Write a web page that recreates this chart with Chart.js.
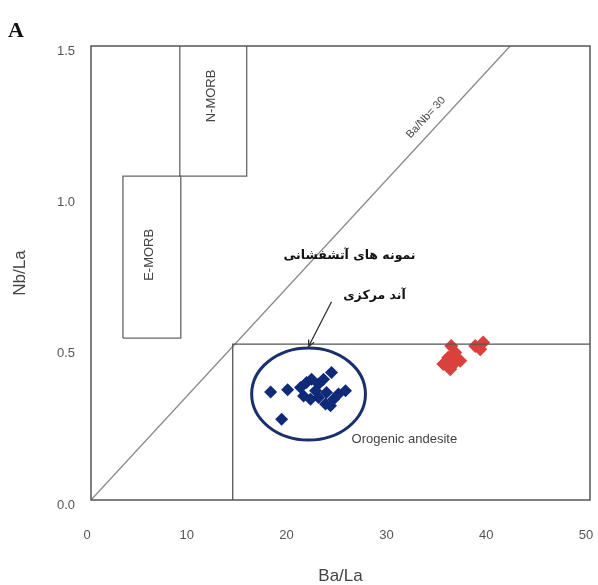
<!DOCTYPE html>
<html>
<head>
<meta charset="utf-8">
<script src="https://cdn.jsdelivr.net/npm/chart.js@4.4.0/dist/chart.umd.min.js"></script>
<style>
  html, body { margin: 0; padding: 0; background: #fff; }
  #wrap { width: 598px; height: 585px; position: relative; }
</style>
</head>
<body>
<div id="wrap"><canvas id="myChart" width="598" height="585"></canvas></div>
<script>
// samples (Ba/La, Nb/La)
const blueX = [18.0, 19.7, 19.1, 21.0, 21.6, 22.1, 21.3, 22.8, 23.3, 24.1, 23.6, 22.8, 23.5, 24.3, 24.8, 25.5, 24.0, 22.5, 22.0]
const blueY = [0.357, 0.364, 0.267, 0.372, 0.388, 0.399, 0.344, 0.383, 0.399, 0.421, 0.355, 0.339, 0.317, 0.333, 0.350, 0.361, 0.311, 0.361, 0.333]
const redX = [36.1, 36.5, 35.8, 35.3, 36.5, 36.0, 37.0, 38.5, 39.3, 39.0]
const redY = [0.509, 0.487, 0.471, 0.449, 0.454, 0.432, 0.460, 0.509, 0.520, 0.498]

// field boundaries
const nMorbX = [8.9, 8.9, 15.6, 15.6]
const nMorbY = [1.5, 1.07, 1.07, 1.5]
const eMorbX = [3.2, 3.2, 9.0, 9.0, 3.2]
const eMorbY = [0.535, 1.07, 1.07, 0.535, 0.535]
const andesiteX = [14.2, 14.2, 50]
const andesiteY = [0, 0.515, 0.515]
const ratioX = [0, 42]
const ratioY = [0, 1.5]

const xTicks = [0, 10, 20, 30, 40, 50]
const yTicks = [0, 0.5, 1.0, 1.5]

const toPts = (xs, ys) => xs.map((x, i) => ({ x: x, y: ys[i] }))

const lineSet = (xs, ys, color) => ({
  data: toPts(xs, ys),
  showLine: true,
  borderColor: color,
  borderWidth: 1.3,
  pointRadius: 0,
  fill: false,
  tension: 0,
})

const overlay = {
  id: 'overlay',
  afterDatasetsDraw(chart) {
    const ctx = chart.ctx
    const xs = chart.scales.x
    const ys = chart.scales.y
    const px = (v) => xs.getPixelForValue(v)
    const py = (v) => ys.getPixelForValue(v)
    const area = chart.chartArea

    ctx.save()
    // frame
    ctx.strokeStyle = '#555'
    ctx.lineWidth = 1.5
    ctx.strokeRect(area.left, area.top, area.right - area.left, area.bottom - area.top)

    // ellipse round the blue group
    ctx.strokeStyle = '#1a2f6e'
    ctx.lineWidth = 3
    ctx.beginPath()
    ctx.ellipse(px(21.8), py(0.35), px(27.5) - px(21.8), py(0.35) - py(0.502), 0, 0, Math.PI * 2)
    ctx.stroke()

    // arrow
    const ax0 = px(24.1), ay0 = py(0.655), ax1 = px(21.8), ay1 = py(0.507)
    ctx.strokeStyle = '#333'
    ctx.lineWidth = 1.3
    ctx.beginPath()
    ctx.moveTo(ax0, ay0)
    ctx.lineTo(ax1, ay1)
    const ang = Math.atan2(ay1 - ay0, ax1 - ax0)
    ctx.moveTo(ax1 - 7 * Math.cos(ang - 0.45), ay1 - 7 * Math.sin(ang - 0.45))
    ctx.lineTo(ax1, ay1)
    ctx.lineTo(ax1 - 7 * Math.cos(ang + 0.45), ay1 - 7 * Math.sin(ang + 0.45))
    ctx.stroke()

    // texts
    ctx.fillStyle = '#444'
    ctx.textAlign = 'center'
    ctx.textBaseline = 'middle'
    ctx.font = '13px "Liberation Sans", Arial, sans-serif'
    ctx.fillText('Orogenic andesite', px(31.4), py(0.2))

    ctx.save()
    ctx.translate(px(12.1), py(1.335))
    ctx.rotate(-Math.PI / 2)
    ctx.fillText('N-MORB', 0, 0)
    ctx.restore()

    ctx.save()
    ctx.translate(px(5.9), py(0.81))
    ctx.rotate(-Math.PI / 2)
    ctx.fillText('E-MORB', 0, 0)
    ctx.restore()

    ctx.save()
    ctx.font = '11px "Liberation Sans", Arial, sans-serif'
    const lx = px(34), ly = py(1.25)
    ctx.translate(lx, ly)
    ctx.rotate(Math.atan2(py(1.5) - py(0), px(42) - px(0)))
    ctx.fillText('Ba/Nb= 30', 0, -6)
    ctx.restore()

    ctx.fillStyle = '#111'
    ctx.font = 'bold 12.5px "DejaVu Sans", sans-serif'
    ctx.fillText('نمونه های آتشفشانی', px(25.9), py(0.808))
    ctx.fillText('آند مرکزی', px(28.4), py(0.676))

    // panel letter
    ctx.font = 'bold 22px "Liberation Serif", serif'
    ctx.textAlign = 'left'
    ctx.fillText('A', 8, 31)
    ctx.restore()
  },
}

const myChart = new Chart('myChart', {
  type: 'scatter',
  data: {
    datasets: [
      lineSet(nMorbX, nMorbY, '#666'),
      lineSet(eMorbX, eMorbY, '#666'),
      lineSet(andesiteX, andesiteY, '#555'),
      lineSet(ratioX, ratioY, '#888'),
      {
        data: toPts(blueX, blueY),
        pointStyle: 'rectRot',
        pointRadius: 6.5,
        backgroundColor: '#0f2a78',
        borderColor: '#0f2a78',
        borderWidth: 0,
      },
      {
        data: toPts(redX, redY),
        pointStyle: 'rectRot',
        pointRadius: 7,
        backgroundColor: '#d9423c',
        borderColor: '#d9423c',
        borderWidth: 0,
      },
    ],
  },
  options: {
    responsive: false,
    animation: false,
    layout: { padding: { top: 46, right: 8, left: 0, bottom: 0 } },
    plugins: { legend: { display: false }, tooltip: { enabled: false } },
    scales: {
      x: {
        type: 'linear',
        min: 0,
        max: 50,
        afterBuildTicks: (s) => { s.ticks = xTicks.map((v) => ({ value: v })) },
        afterFit: (s) => {
          s.height = 85
          s.paddingLeft = 0
          s.paddingRight = 0
        },
        grid: { display: false, drawTicks: false },
        border: { display: false },
        ticks: {
          padding: 28,
          labelOffset: -4,
          color: '#555',
          font: { family: '"Liberation Sans", Arial, sans-serif', size: 13 },
        },
        title: {
          display: true,
          text: 'Ba/La',
          color: '#444',
          padding: { top: 24, bottom: -2 },
          font: { family: '"Liberation Sans", Arial, sans-serif', size: 17 },
        },
      },
      y: {
        type: 'linear',
        min: 0,
        max: 1.5,
        afterBuildTicks: (s) => { s.ticks = yTicks.map((v) => ({ value: v })) },
        afterFit: (s) => {
          s.width = 91
          s.paddingTop = 0
          s.paddingBottom = 0
        },
        grid: { display: false, drawTicks: false },
        border: { display: false },
        ticks: {
          padding: 16,
          labelOffset: 5,
          color: '#555',
          callback: (v) => Number(v).toFixed(1),
          font: { family: '"Liberation Sans", Arial, sans-serif', size: 13 },
        },
        title: {
          display: true,
          text: 'Nb/La',
          color: '#444',
          padding: { top: 10, bottom: 4 },
          font: { family: '"Liberation Sans", Arial, sans-serif', size: 17 },
        },
      },
    },
  },
  plugins: [overlay],
})
</script>
</body>
</html>
